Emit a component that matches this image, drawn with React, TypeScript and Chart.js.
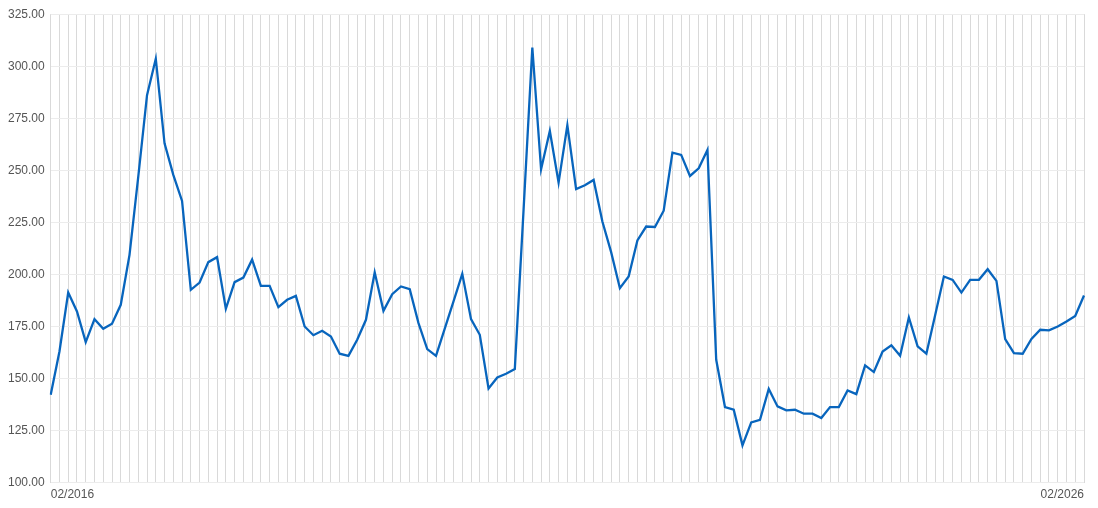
import React, { useEffect, useRef } from 'react';
import { Chart, registerables } from 'chart.js';

Chart.register(...registerables);

const tickLabels = ['02/2016', '02/2026'];

const values = [
  142.2, 163, 191.3, 182.2, 167.5, 178.5, 173.9, 176.3, 185.4, 209.4,
  247, 286.1, 303.6, 263, 247.8, 235.3, 192.6, 196.1, 205.9, 208.3,
  183.5, 196.3, 198.5, 207.1, 194.5, 194.5, 184.3, 187.8, 189.7, 175,
  170.8, 172.9, 170.2, 161.9, 160.9, 168.6, 178.2, 201, 182.5, 190.5,
  194.2, 192.9, 176.6, 164.1, 160.9, 174, 187.1, 200.3, 178.5, 171,
  145.2, 150.5, 152.3, 154.5, 231, 309, 250.5, 268.9, 244.1, 271.6,
  241, 242.8, 245.4, 225.4, 210.7, 193.4, 199, 216.3, 223, 222.8,
  230.6, 258.5, 257.4, 247.3, 251, 259.8, 159, 136.3, 135, 117.9,
  128.9, 130.2, 145, 136.6, 134.7, 135, 133.1, 133.1, 131, 136.3,
  136.3, 144.3, 142.5, 156.3, 153.1, 163, 166, 160.9, 179.3, 165.4,
  161.9, 180.4, 199, 197.4, 191.3, 197.4, 197.4, 202.5, 196.9, 168.9,
  162.2, 161.9, 169, 173.4, 173.1, 175, 177.4, 180.1, 189.9,
];

const yMin = 100;
const yMax = 325;
const yStep = 25;

export default function App() {
  const ref = useRef<HTMLCanvasElement | null>(null);

  useEffect(() => {
    if (!ref.current) return;
    const labels = values.map((_, i) =>
      i === 0 ? tickLabels[0] : i === values.length - 1 ? tickLabels[1] : ''
    );
    const font = { family: "Arial, 'Liberation Sans', sans-serif", size: 12, lineHeight: 1.2 };
    const chart = new Chart(ref.current, {
      type: 'line',
      data: {
        labels,
        datasets: [
          {
            data: values,
            borderColor: '#0865bd',
            borderWidth: 2.3,
            pointRadius: 0,
            tension: 0,
            fill: false,
          },
        ],
      },
      options: {
        animation: false,
        responsive: true,
        maintainAspectRatio: false,
        plugins: { legend: { display: false }, tooltip: { enabled: false } },
        scales: {
          x: {
            grid: { color: '#d9d9d9', drawTicks: false },
            border: { display: false },
            ticks: {
              autoSkip: false,
              maxRotation: 0,
              minRotation: 0,
              align: 'inner',
              padding: 5,
              color: '#555',
              font,
              callback: function (this: any, v: any) {
                return this.getLabelForValue(v);
              },
            },
          },
          y: {
            min: yMin,
            max: yMax,
            grid: { color: '#ececec', drawTicks: false },
            border: { display: false },
            ticks: {
              stepSize: yStep,
              padding: 6,
              color: '#555',
              font,
              callback: (v: any) => Number(v).toFixed(2),
            },
          },
        },
      },
    });
    return () => chart.destroy();
  }, []);

  return (
    <div style={{ position: 'absolute', left: 2, top: 1, width: 1087, height: 506 }}>
      <canvas ref={ref} />
    </div>
  );
}
